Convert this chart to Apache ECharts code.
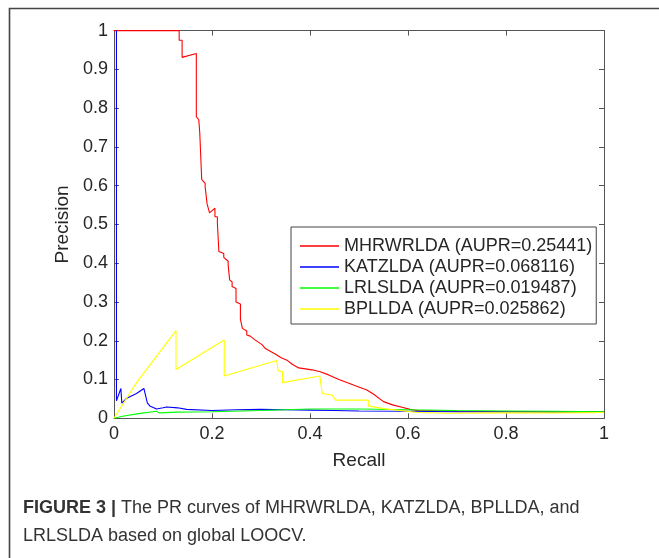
<!DOCTYPE html>
<html>
<head>
<meta charset="utf-8">
<script src="https://cdn.jsdelivr.net/npm/echarts@6/dist/echarts.min.js"></script>
<style>
html,body{margin:0;padding:0;background:#fff;}
#chart{width:659px;height:558px;}
</style>
</head>
<body>
<div id="chart"></div>
<script>
// ---- data ----
var seriesNames = ['MHRWRLDA (AUPR=0.25441)', 'KATZLDA (AUPR=0.068116)', 'LRLSLDA (AUPR=0.019487)', 'BPLLDA (AUPR=0.025862)'];
var xTicks = [0, 0.2, 0.4, 0.6, 0.8, 1];
var yTicks = [0, 0.1, 0.2, 0.3, 0.4, 0.5, 0.6, 0.7, 0.8, 0.9, 1];

var mhrRecall = [0, 0.133, 0.133, 0.139, 0.139, 0.168, 0.168, 0.173, 0.173, 0.175, 0.175, 0.179, 0.179, 0.186, 0.186, 0.19, 0.19, 0.195, 0.206, 0.206, 0.211, 0.211, 0.214, 0.214, 0.224, 0.224, 0.233, 0.233, 0.236, 0.236, 0.241, 0.241, 0.249, 0.249, 0.258, 0.258, 0.262, 0.262, 0.271, 0.271, 0.278, 0.278, 0.287, 0.287, 0.302, 0.302, 0.309, 0.316, 0.33, 0.34, 0.353, 0.363, 0.377, 0.404, 0.421, 0.438, 0.459, 0.478, 0.49, 0.516, 0.53, 0.55, 0.57, 0.59, 0.604, 0.62, 0.7, 0.8, 0.9, 1];
var mhrPrecision = [1, 1, 0.975, 0.975, 0.931, 0.941, 0.778, 0.77, 0.766, 0.766, 0.737, 0.737, 0.616, 0.606, 0.597, 0.597, 0.553, 0.53, 0.542, 0.52, 0.52, 0.503, 0.5, 0.43, 0.425, 0.415, 0.405, 0.395, 0.39, 0.357, 0.352, 0.34, 0.335, 0.3, 0.295, 0.256, 0.252, 0.232, 0.225, 0.215, 0.212, 0.207, 0.203, 0.198, 0.19, 0.185, 0.18, 0.175, 0.165, 0.157, 0.15, 0.14, 0.13, 0.125, 0.12, 0.112, 0.1, 0.091, 0.085, 0.073, 0.062, 0.043, 0.034, 0.028, 0.023, 0.02, 0.018, 0.017, 0.017, 0.016];

var katzRecall = [0.005, 0.005, 0.009, 0.014, 0.016, 0.026, 0.046, 0.061, 0.063, 0.065, 0.068, 0.073, 0.077, 0.087, 0.1, 0.107, 0.13, 0.148, 0.2, 0.25, 0.3, 0.35, 0.4, 0.45, 0.5, 0.6, 0.7, 0.8, 0.9, 1];
var katzPrecision = [1, 0.045, 0.04, 0.077, 0.039, 0.052, 0.064, 0.077, 0.066, 0.056, 0.04, 0.032, 0.028, 0.024, 0.027, 0.029, 0.027, 0.023, 0.02, 0.022, 0.023, 0.022, 0.021, 0.02, 0.019, 0.018, 0.017, 0.017, 0.016, 0.016];

var lrlsRecall = [0, 0.02, 0.05, 0.087, 0.092, 0.13, 0.2, 0.3, 0.35, 0.4, 0.5, 0.6, 0.7, 0.8, 0.9, 1];
var lrlsPrecision = [0, 0.006, 0.012, 0.018, 0.014, 0.016, 0.017, 0.02, 0.022, 0.024, 0.024, 0.022, 0.02, 0.019, 0.018, 0.017];

var bplRecall = [0, 0.02, 0.046, 0.1265, 0.1265, 0.225, 0.225, 0.332, 0.335, 0.344, 0.344, 0.42, 0.425, 0.445, 0.452, 0.519, 0.519, 0.55, 0.62, 0.68, 0.8, 0.9, 1];
var bplPrecision = [0, 0.04, 0.092, 0.226, 0.126, 0.202, 0.109, 0.149, 0.123, 0.12, 0.092, 0.109, 0.064, 0.06, 0.047, 0.047, 0.032, 0.025, 0.015, 0.013, 0.014, 0.014, 0.015];

function zip(xs, ys) { return xs.map(function (x, i) { return [x, ys[i]]; }); }

var seriesData = [zip(mhrRecall, mhrPrecision), zip(katzRecall, katzPrecision), zip(lrlsRecall, lrlsPrecision), zip(bplRecall, bplPrecision)];
var seriesColors = ['#ff0000', '#0000ff', '#00ff00', '#ffff00'];

var FONT = '"Liberation Sans", Arial, Helvetica, sans-serif';
var axisColor = '#555555';
var textColor = '#262626';

var chart = echarts.init(document.getElementById('chart'), null, {renderer: 'canvas'});

var option = {
  backgroundColor: '#ffffff',
  animation: false,
  grid: {left: 114, top: 30.6, right: 55, bottom: 139.7, containLabel: false},
  legend: {
    data: seriesNames,
    orient: 'vertical',
    left: 291, top: 227,
    backgroundColor: '#ffffff',
    borderColor: '#444444', borderWidth: 1,
    padding: [10, 4, 6, 9],
    icon: 'rect',
    itemWidth: 39, itemHeight: 1.5, itemGap: 3,
    textStyle: {fontFamily: FONT, fontSize: 18, color: textColor, padding: [0, 0, 0, 0]},
    selectedMode: false
  },
  xAxis: [{
    type: 'value', min: 0, max: 1, interval: 0.2, position: 'bottom',
    name: 'Recall', nameLocation: 'middle', nameGap: 33,
    nameTextStyle: {fontFamily: FONT, fontSize: 19, color: textColor},
    axisLine: {show: true, onZero: false, lineStyle: {color: axisColor, width: 1}},
    axisTick: {show: true, inside: true, length: 5, lineStyle: {color: axisColor}},
    axisLabel: {fontFamily: FONT, fontSize: 18, color: textColor, margin: 7,
      formatter: function (v) { return xTicks.indexOf(Math.round(v * 10) / 10) >= 0 ? String(Math.round(v * 10) / 10) : ''; }},
    splitLine: {show: false}
  }, {
    type: 'value', min: 0, max: 1, interval: 0.2, position: 'top',
    axisLine: {show: true, onZero: false, lineStyle: {color: axisColor, width: 1}},
    axisTick: {show: true, inside: true, length: 5, lineStyle: {color: axisColor}},
    axisLabel: {show: false}, splitLine: {show: false}
  }],
  yAxis: [{
    type: 'value', min: 0, max: 1, interval: 0.1, position: 'left',
    name: 'Precision', nameLocation: 'middle', nameGap: 33,
    nameTextStyle: {fontFamily: FONT, fontSize: 19, color: textColor},
    axisLine: {show: true, onZero: false, lineStyle: {color: axisColor, width: 1}},
    axisTick: {show: true, inside: true, length: 5, lineStyle: {color: axisColor}},
    axisLabel: {fontFamily: FONT, fontSize: 18, color: textColor, margin: 6,
      formatter: function (v) { return String(Math.round(v * 10) / 10); }},
    splitLine: {show: false}
  }, {
    type: 'value', min: 0, max: 1, interval: 0.1, position: 'right',
    axisLine: {show: true, onZero: false, lineStyle: {color: axisColor, width: 1}},
    axisTick: {show: true, inside: true, length: 5, lineStyle: {color: axisColor}},
    axisLabel: {show: false}, splitLine: {show: false}
  }],
  series: seriesNames.map(function (name, i) {
    return {
      name: name, type: 'line', data: seriesData[i],
      xAxisIndex: 0, yAxisIndex: 0,
      symbol: 'none', showSymbol: false, smooth: false,
      lineStyle: {color: seriesColors[i], width: 1.1},
      itemStyle: {color: seriesColors[i]},
      z: 2 + i
    };
  }),
  graphic: [
    {type: 'rect', left: 7, top: 6, z: 100, silent: true,
     shape: {x: 0, y: 0, width: 720, height: 620},
     style: {fill: 'none', stroke: '#444444', lineWidth: 1.6}},
    {type: 'text', left: 23, top: 499, z: 100, silent: true,
     style: {text: '{b|FIGURE 3 |} The PR curves of MHRWRLDA, KATZLDA, BPLLDA, and',
       rich: {b: {fontWeight: 'bold', fontFamily: FONT, fontSize: 18, fill: '#333333'}},
       font: '18px ' + FONT, fill: '#333333'}},
    {type: 'text', left: 23, top: 527, z: 100, silent: true,
     style: {text: 'LRLSLDA based on global LOOCV.', font: '18px ' + FONT, fill: '#333333'}}
  ]
};
chart.setOption(option);
</script>
</body>
</html>
